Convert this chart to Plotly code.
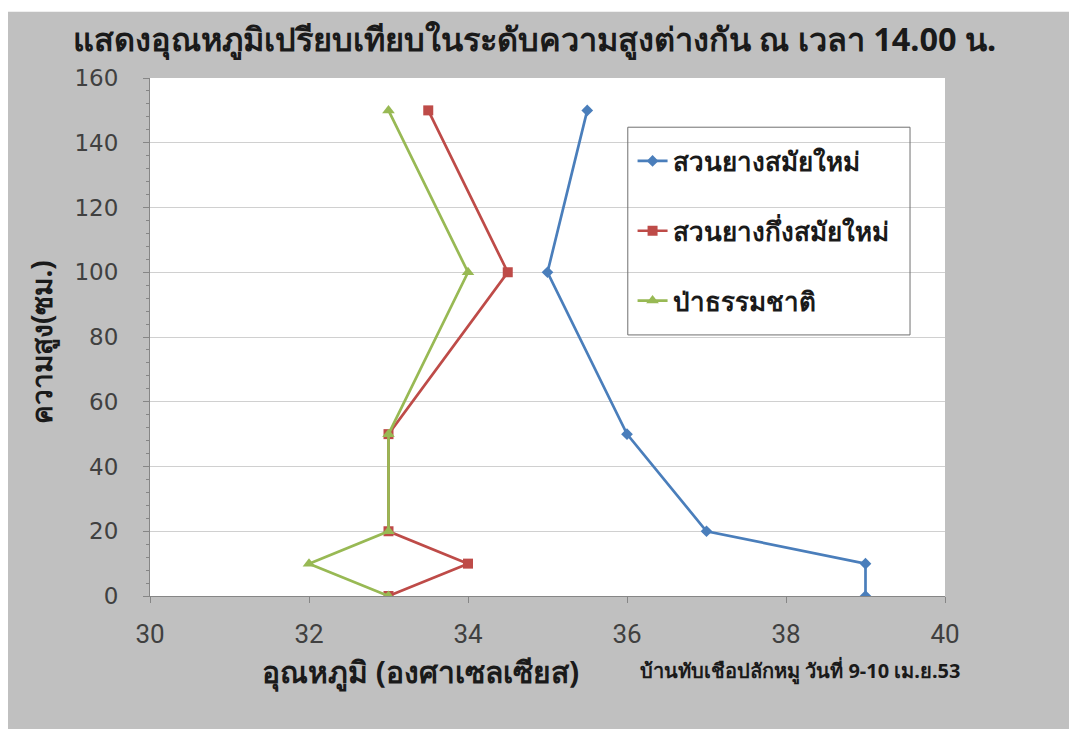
import plotly.graph_objects as go

# Data
heights = [0, 10, 20, 50, 100, 150]
modern = [39, 39, 37, 36, 35, 35.5]
semi_modern = [33, 34, 33, 33, 34.5, 33.5]
natural = [33, 32, 33, 33, 34, 33]
series_names = ["สวนยางสมัยใหม่", "สวนยางกึ่งสมัยใหม่", "ป่าธรรมชาติ"]
title_text = "แสดงอุณหภูมิเปรียบเทียบในระดับความสูงต่างกัน ณ เวลา 14.00 น."
x_title = "อุณหภูมิ (องศาเซลเซียส)"
y_title = "ความสูง(ซม.)"
note_text = "บ้านทับเชือปลักหมู วันที่ 9-10 เม.ย.53"

colors = ["#4A7EBB", "#BE4B48", "#98B954"]
symbols = ["diamond", "square", "triangle-up"]
msizes = [9, 10, 11]

fig = go.Figure()
for i, (name, xs) in enumerate(zip(series_names, [modern, semi_modern, natural])):
    fig.add_trace(go.Scatter(
        x=xs, y=heights, name=name, mode="lines+markers",
        line=dict(color=colors[i], width=2.7),
        marker=dict(symbol=symbols[i], size=msizes[i], color=colors[i]),
        legendgroup=f"g{i}",
    ))

GRAY = "#C0C0C0"
THAI = "Noto Sans, DejaVu Sans"
fig.update_layout(
    width=1069, height=729,
    margin=dict(l=150, r=124, t=78, b=133),
    paper_bgcolor=GRAY, plot_bgcolor="white",
    title=dict(text=title_text, x=0.5, xanchor="center", y=0.945, yanchor="middle",
               font=dict(family=THAI, size=32.5, color="#1a1a1a", weight="bold")),
    font=dict(family="DejaVu Sans", color="#404040"),
    showlegend=True,
    legend=dict(x=0.607, y=0.885, xanchor="left", yanchor="top",
                bgcolor="rgba(0,0,0,0)", borderwidth=0,
                tracegroupgap=33,
                font=dict(family=THAI, size=26, color="#1a1a1a", weight="bold")),
    xaxis=dict(range=[30, 40], dtick=2, tick0=30, showgrid=False, zeroline=False,
               showline=True, linecolor="#868686", linewidth=1,
               ticks="outside", ticklen=6, tickcolor="#868686",
               ticklabelstandoff=9,
               tickfont=dict(family="Roboto", size=26, color="#404040")),
    yaxis=dict(range=[0, 160], dtick=20, tick0=0, showgrid=True, gridcolor="#D0D0D0", gridwidth=1,
               zeroline=False, showline=True, linecolor="#868686", linewidth=1,
               ticks="outside", ticklen=6, tickcolor="#868686",
               ticklabelstandoff=20,
               minor=dict(dtick=4, ticks="outside", ticklen=3, tickcolor="#868686", showgrid=False),
               tickfont=dict(family="DejaVu Sans", size=23, color="#404040")),
)

# axis titles as annotations (positioned like the original)
fig.add_annotation(text=x_title, xref="paper", yref="paper", x=(420 - 150) / 795, y=(596 - 671) / 518,
                   xanchor="center", yanchor="middle", showarrow=False,
                   font=dict(family=THAI, size=30, color="#1a1a1a", weight="bold"))
fig.add_annotation(text=y_title, xref="paper", yref="paper", x=(41 - 150) / 795, y=(596 - 342) / 518,
                   xanchor="center", yanchor="middle", showarrow=False, textangle=-90,
                   font=dict(family=THAI, size=28, color="#1a1a1a", weight="bold"))
fig.add_annotation(text=note_text, xref="paper", yref="paper", x=(800 - 150) / 795, y=(596 - 670) / 518,
                   xanchor="center", yanchor="middle", showarrow=False,
                   font=dict(family=THAI, size=20, color="#1a1a1a", weight="bold"))

# legend frame
fig.add_shape(type="rect", xref="paper", yref="paper", x0=0.601, x1=0.956, y0=0.504, y1=0.905,
              line=dict(color="#707070", width=1), fillcolor="rgba(0,0,0,0)", layer="above")
# white outer strips (top and left) of the picture
fig.add_shape(type="rect", xref="paper", yref="paper", x0=-0.19, x1=1.16, y0=1.128, y1=1.16,
              line=dict(width=0), fillcolor="white", layer="above")
fig.add_shape(type="rect", xref="paper", yref="paper", x0=-0.19, x1=-0.1786, y0=-0.26, y1=1.16,
              line=dict(width=0), fillcolor="white", layer="above")

fig.write_html("out.html")
